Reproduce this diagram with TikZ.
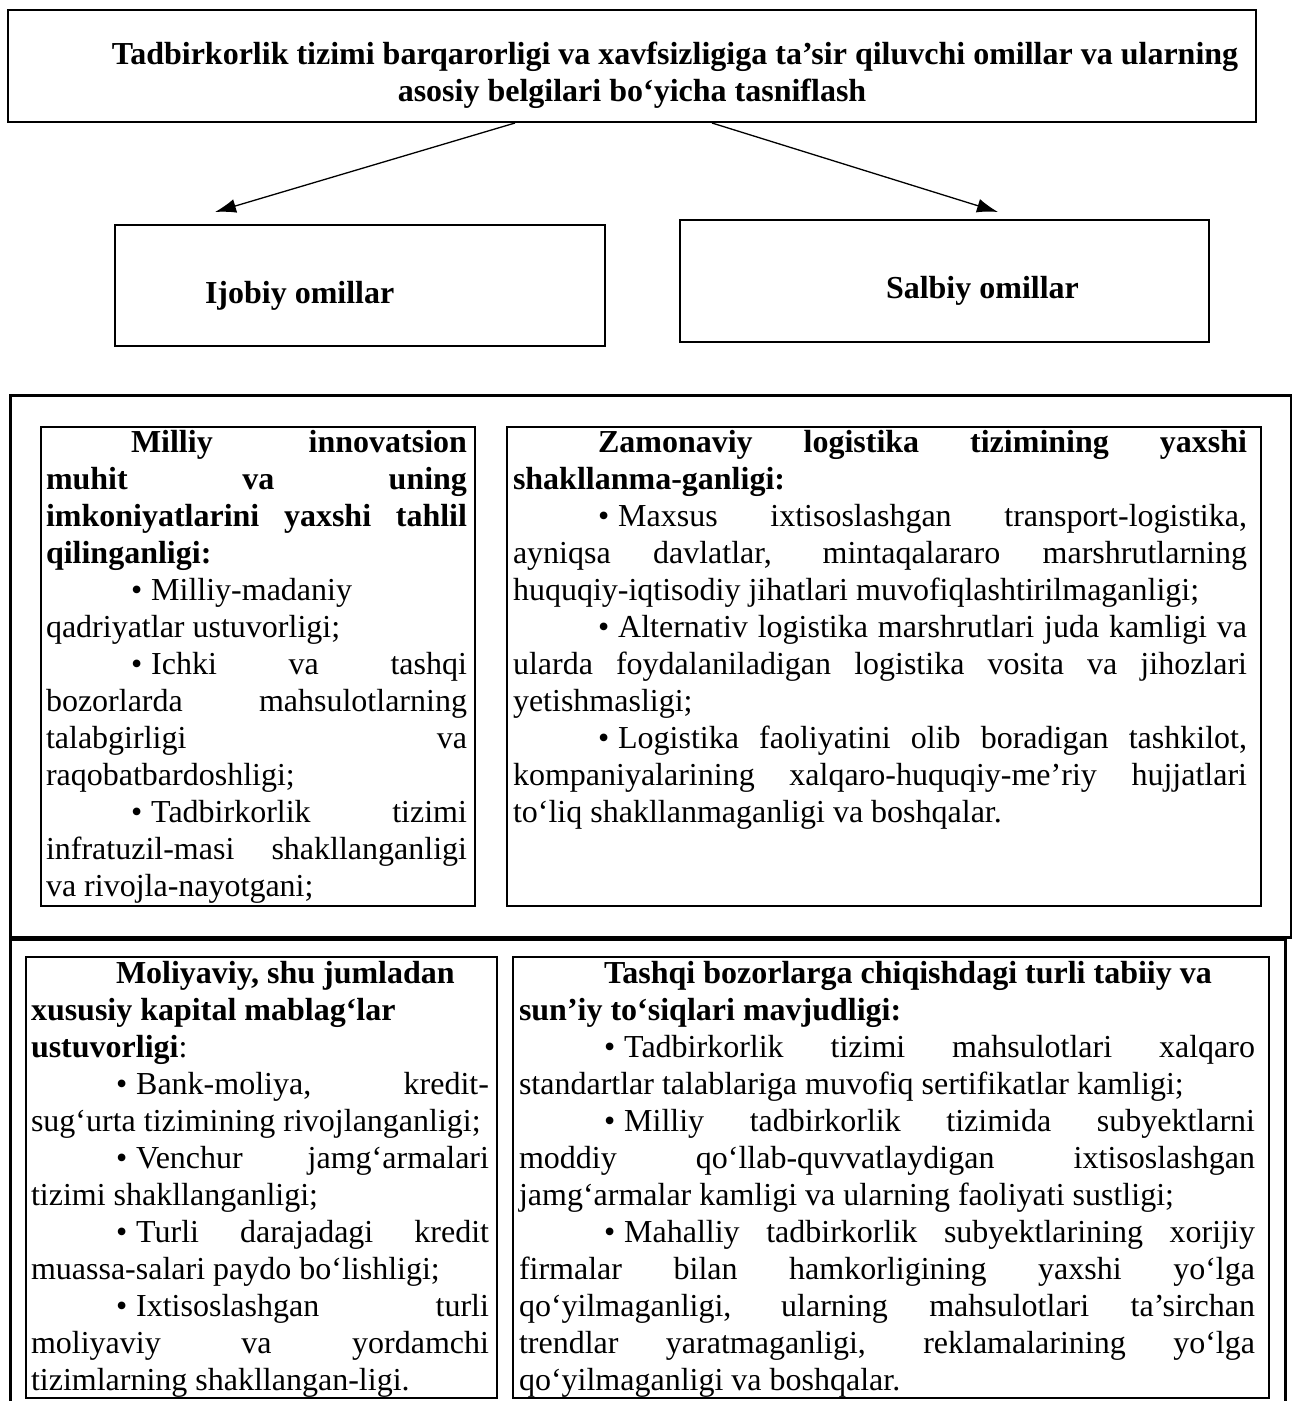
\documentclass[tikz,border=0pt]{standalone}
\usepackage{fontspec}
\setmainfont{Liberation Serif}
\usetikzlibrary{arrows.meta}
\newcommand\para[2]{\vtop{\hsize=#1\relax\baselineskip=37pt\lineskiplimit=-100pt\lineskip=0pt\relax #2}}
\newcommand\jl[1]{\hbox to\hsize{#1}}
\newcommand\jli[1]{\hbox to\hsize{\hskip85pt\relax #1}}
\newcommand\rl[1]{\hbox{#1}}
\newcommand\rli[1]{\hbox{\hskip85pt\relax #1}}
\newcommand\bul{\textbullet\hskip9pt\relax}
\tikzset{
  frame/.style={draw, line width=2.6pt, inner sep=0pt, outer sep=0pt},
  thinframe/.style={draw, line width=2.2pt, inner sep=0pt, outer sep=0pt},
  txt/.style={anchor=base west, inner sep=0pt, outer sep=0pt, font=\fontsize{32}{37}\selectfont},
  head/.style={anchor=base, inner sep=0pt, outer sep=0pt, font=\fontsize{32}{37}\selectfont\bfseries},
  arr/.style={-{Latex[length=21pt,width=14pt]}, line width=1.3pt}
}
\begin{document}
\begin{tikzpicture}[x=1pt,y=-1pt]
\useasboundingbox (0,0) rectangle (1292,1401);
% title
\node[frame, minimum width=1248pt, minimum height=112pt] (title) at (632,66) {};
\node[head] (t1) at (675,64) {Tadbirkorlik tizimi barqarorligi va xavfsizligiga ta’sir qiluvchi omillar va ularning};
\node[head] (t2) at (632,101) {asosiy belgilari bo‘yicha tasniflash};
% two category boxes
\node[frame, minimum width=490pt, minimum height=121pt] (ijobiy) at (360,285.5) {};
\node[head, anchor=base west] (ijt) at (205,303) {Ijobiy omillar};
\node[frame, minimum width=529pt, minimum height=122pt] (salbiy) at (944.5,281) {};
\node[head, anchor=base west] (sat) at (886,298) {Salbiy omillar};
% arrows
\coordinate (a1) at (515,123);
\coordinate (a1e) at (215,212);
\coordinate (a2) at (712,123);
\coordinate (a2e) at (998,212);
\draw[arr] (a1) -- (a1e);
\draw[arr] (a2) -- (a2e);
% upper outer frame
\node[draw, line width=3pt, inner sep=0pt, minimum width=1281pt, minimum height=542pt] (outer1) at (650.5,666) {};
\node[thinframe, minimum width=434pt, minimum height=479pt] (ul) at (258,666.5) {};
\node[thinframe, minimum width=754pt, minimum height=479pt] (ur) at (884,666.5) {};
% lower outer frame (open at the bottom)
\draw[line width=3pt] (10,1401) -- (10,939) -- (1285,939) -- (1285,1401);
\node[thinframe, minimum width=471pt, minimum height=441pt] (ll) at (261.5,1177.5) {};
\node[thinframe, minimum width=756pt, minimum height=441pt] (lr) at (891,1177.5) {};
% texts
\node[txt] (ultext) at (46,452) {\para{421pt}{%
\jli{\bfseries Milliy innovatsion}%
\jl{\bfseries muhit va uning}%
\jl{\bfseries imkoniyatlarini yaxshi tahlil}%
\rl{\bfseries qilinganligi:}%
\rli{\bul Milliy-madaniy}%
\rl{qadriyatlar ustuvorligi;}%
\jli{\bul Ichki va tashqi}%
\jl{bozorlarda mahsulotlarning}%
\jl{talabgirligi va}%
\rl{raqobatbardoshligi;}%
\jli{\bul Tadbirkorlik tizimi}%
\jl{infratuzil-masi shakllanganligi}%
\rl{va rivojla-nayotgani;}%
}};
\node[txt] (urtext) at (513,452) {\para{734pt}{%
\jli{\bfseries Zamonaviy logistika tizimining yaxshi}%
\rl{\bfseries shakllanma-ganligi:}%
\jli{\bul Maxsus ixtisoslashgan transport-logistika,}%
\jl{ayniqsa davlatlar, mintaqalararo marshrutlarning}%
\rl{huquqiy-iqtisodiy jihatlari muvofiqlashtirilmaganligi;}%
\jli{\bul Alternativ logistika marshrutlari juda kamligi va}%
\jl{ularda foydalaniladigan logistika vosita va jihozlari}%
\rl{yetishmasligi;}%
\jli{\bul Logistika faoliyatini olib boradigan tashkilot,}%
\jl{kompaniyalarining xalqaro-huquqiy-me’riy hujjatlari}%
\rl{to‘liq shakllanmaganligi va boshqalar.}%
}};
\node[txt] (lltext) at (31,983) {\para{458pt}{%
\rli{\bfseries Moliyaviy, shu jumladan}%
\rl{\bfseries xususiy kapital mablag‘lar}%
\rl{{\bfseries ustuvorligi}:}%
\jli{\bul Bank-moliya, kredit-}%
\rl{sug‘urta tizimining rivojlanganligi;}%
\jli{\bul Venchur jamg‘armalari}%
\rl{tizimi shakllanganligi;}%
\jli{\bul Turli darajadagi kredit}%
\rl{muassa-salari paydo bo‘lishligi;}%
\jli{\bul Ixtisoslashgan turli}%
\jl{moliyaviy va yordamchi}%
\rl{tizimlarning shakllangan-ligi.}%
}};
\node[txt] (lrtext) at (519,983) {\para{736pt}{%
\rli{\bfseries Tashqi bozorlarga chiqishdagi turli tabiiy va}%
\rl{\bfseries sun’iy to‘siqlari mavjudligi:}%
\jli{\bul Tadbirkorlik tizimi mahsulotlari xalqaro}%
\rl{standartlar talablariga muvofiq sertifikatlar kamligi;}%
\jli{\bul Milliy tadbirkorlik tizimida subyektlarni}%
\jl{moddiy qo‘llab-quvvatlaydigan ixtisoslashgan}%
\rl{jamg‘armalar kamligi va ularning faoliyati sustligi;}%
\jli{\bul Mahalliy tadbirkorlik subyektlarining xorijiy}%
\jl{firmalar bilan hamkorligining yaxshi yo‘lga}%
\jl{qo‘yilmaganligi, ularning mahsulotlari ta’sirchan}%
\jl{trendlar yaratmaganligi, reklamalarining yo‘lga}%
\rl{qo‘yilmaganligi va boshqalar.}%
}};
\end{tikzpicture}
\end{document}
